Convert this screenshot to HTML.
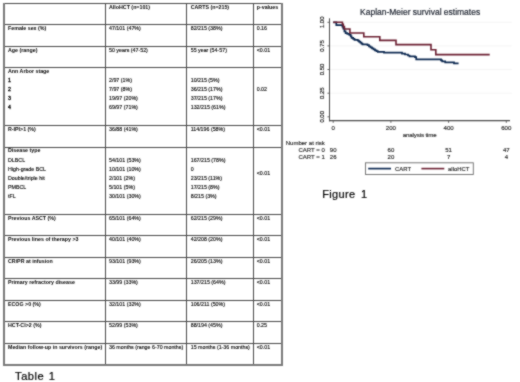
<!DOCTYPE html>
<html><head><meta charset="utf-8"><style>
html,body{margin:0;padding:0;background:#fff;width:520px;height:382px;overflow:hidden}
svg{display:block;will-change:transform;font-family:"Liberation Sans",sans-serif}
</style></head><body>
<svg width="520" height="382" viewBox="0 0 520 382">
<defs><filter id="f" x="0" y="0" width="520" height="382" filterUnits="userSpaceOnUse" color-interpolation-filters="sRGB"><feConvolveMatrix order="3" kernelMatrix="1 2 1 2 12 2 1 2 1" edgeMode="duplicate"/></filter></defs>
<g filter="url(#f)">
<rect x="0" y="0" width="520" height="382" fill="#fff"/>
<rect x="3" y="24" width="280" height="1" fill="#4a4a4a"/>
<rect x="3" y="46" width="280" height="1" fill="#4a4a4a"/>
<rect x="3" y="67" width="280" height="1" fill="#4a4a4a"/>
<rect x="3" y="125" width="280" height="1" fill="#4a4a4a"/>
<rect x="3" y="147" width="280" height="1" fill="#4a4a4a"/>
<rect x="3" y="214" width="280" height="1" fill="#4a4a4a"/>
<rect x="3" y="235" width="280" height="1" fill="#4a4a4a"/>
<rect x="3" y="257" width="280" height="1" fill="#4a4a4a"/>
<rect x="3" y="278" width="280" height="1" fill="#4a4a4a"/>
<rect x="3" y="300" width="280" height="1" fill="#4a4a4a"/>
<rect x="3" y="321" width="280" height="1" fill="#4a4a4a"/>
<rect x="3" y="343" width="280" height="1" fill="#4a4a4a"/>
<rect x="105" y="3" width="1" height="363" fill="#4a4a4a"/>
<rect x="186" y="3" width="1" height="363" fill="#4a4a4a"/>
<rect x="253" y="3" width="1" height="363" fill="#4a4a4a"/>
<rect x="3" y="3" width="280" height="1" fill="#4a4a4a"/>
<rect x="3" y="3" width="2" height="363" fill="#7a7a7a"/>
<rect x="281" y="3" width="2" height="363" fill="#7a7a7a"/>
<rect x="3" y="364" width="280" height="2" fill="#7a7a7a"/>
<text x="109" y="8.6" font-size="5.3" font-weight="bold" fill="#000">AlloHCT (n=101)</text>
<text x="190.7" y="8.6" font-size="5.3" font-weight="bold" fill="#000">CARTS (n=215)</text>
<text x="256.7" y="8.6" font-size="5.3" font-weight="bold" fill="#000">p-values</text>
<text x="8" y="29.8" font-size="5.3" font-weight="bold" fill="#000">Female sex (%)</text>
<text x="109" y="29.8" font-size="5.3" fill="#000" stroke="#000" stroke-width="0.12">47/101 (47%)</text>
<text x="190.7" y="29.8" font-size="5.3" fill="#000" stroke="#000" stroke-width="0.12">82/215 (38%)</text>
<text x="256.7" y="29.8" font-size="5.3" fill="#000" stroke="#000" stroke-width="0.12">0.16</text>
<text x="8" y="51.8" font-size="5.3" font-weight="bold" fill="#000">Age (range)</text>
<text x="109" y="51.8" font-size="5.3" fill="#000" stroke="#000" stroke-width="0.12">50 years (47-52)</text>
<text x="190.7" y="51.8" font-size="5.3" fill="#000" stroke="#000" stroke-width="0.12">55 year (54-57)</text>
<text x="256.7" y="51.8" font-size="5.3" fill="#000" stroke="#000" stroke-width="0.12">&lt;0.01</text>
<text x="8" y="72.8" font-size="5.3" font-weight="bold" fill="#000">Ann Arbor stage</text>
<text x="8" y="81.8" font-size="5.3" fill="#000" stroke="#000" stroke-width="0.3">1</text>
<text x="109" y="81.8" font-size="5.3" fill="#000" stroke="#000" stroke-width="0.12">2/97 (1%)</text>
<text x="190.7" y="81.8" font-size="5.3" fill="#000" stroke="#000" stroke-width="0.12">10/215 (5%)</text>
<text x="8" y="90.9" font-size="5.3" fill="#000" stroke="#000" stroke-width="0.3">2</text>
<text x="109" y="90.9" font-size="5.3" fill="#000" stroke="#000" stroke-width="0.12">7/97 (8%)</text>
<text x="190.7" y="90.9" font-size="5.3" fill="#000" stroke="#000" stroke-width="0.12">36/215 (17%)</text>
<text x="8" y="100.0" font-size="5.3" fill="#000" stroke="#000" stroke-width="0.3">3</text>
<text x="109" y="100.0" font-size="5.3" fill="#000" stroke="#000" stroke-width="0.12">19/97 (20%)</text>
<text x="190.7" y="100.0" font-size="5.3" fill="#000" stroke="#000" stroke-width="0.12">37/215 (17%)</text>
<text x="8" y="109.1" font-size="5.3" fill="#000" stroke="#000" stroke-width="0.3">4</text>
<text x="109" y="109.1" font-size="5.3" fill="#000" stroke="#000" stroke-width="0.12">69/97 (71%)</text>
<text x="190.7" y="109.1" font-size="5.3" fill="#000" stroke="#000" stroke-width="0.12">132/215 (61%)</text>
<text x="256.7" y="91.0" font-size="5.3" fill="#000" stroke="#000" stroke-width="0.12">0.02</text>
<text x="8" y="130.8" font-size="5.3" font-weight="bold" fill="#000">R-IPI&gt;1 (%)</text>
<text x="109" y="130.8" font-size="5.3" fill="#000" stroke="#000" stroke-width="0.12">36/88 (41%)</text>
<text x="190.7" y="130.8" font-size="5.3" fill="#000" stroke="#000" stroke-width="0.12">114/196 (58%)</text>
<text x="256.7" y="130.8" font-size="5.3" fill="#000" stroke="#000" stroke-width="0.12">&lt;0.01</text>
<text x="8" y="152.4" font-size="5.3" font-weight="bold" fill="#000">Disease type</text>
<text x="8" y="161.5" font-size="5.3" fill="#000" stroke="#000" stroke-width="0.12">DLBCL</text>
<text x="109" y="161.5" font-size="5.3" fill="#000" stroke="#000" stroke-width="0.12">54/101 (53%)</text>
<text x="190.7" y="161.5" font-size="5.3" fill="#000" stroke="#000" stroke-width="0.12">167/215 (78%)</text>
<text x="8" y="170.6" font-size="5.3" fill="#000" stroke="#000" stroke-width="0.12">High-grade BCL</text>
<text x="109" y="170.6" font-size="5.3" fill="#000" stroke="#000" stroke-width="0.12">10/101 (10%)</text>
<text x="190.7" y="170.6" font-size="5.3" fill="#000" stroke="#000" stroke-width="0.12">0</text>
<text x="8" y="179.7" font-size="5.3" fill="#000" stroke="#000" stroke-width="0.12">Double/triple hit</text>
<text x="109" y="179.7" font-size="5.3" fill="#000" stroke="#000" stroke-width="0.12">2/101 (2%)</text>
<text x="190.7" y="179.7" font-size="5.3" fill="#000" stroke="#000" stroke-width="0.12">23/215 (11%)</text>
<text x="8" y="188.8" font-size="5.3" fill="#000" stroke="#000" stroke-width="0.12">PMBCL</text>
<text x="109" y="188.8" font-size="5.3" fill="#000" stroke="#000" stroke-width="0.12">5/101 (5%)</text>
<text x="190.7" y="188.8" font-size="5.3" fill="#000" stroke="#000" stroke-width="0.12">17/215 (8%)</text>
<text x="8" y="197.9" font-size="5.3" fill="#000" stroke="#000" stroke-width="0.12">tFL</text>
<text x="109" y="197.9" font-size="5.3" fill="#000" stroke="#000" stroke-width="0.12">30/101 (30%)</text>
<text x="190.7" y="197.9" font-size="5.3" fill="#000" stroke="#000" stroke-width="0.12">8/215 (3%)</text>
<text x="256.7" y="175.3" font-size="5.3" fill="#000" stroke="#000" stroke-width="0.12">&lt;0.01</text>
<text x="8" y="219.8" font-size="5.3" font-weight="bold" fill="#000">Previous ASCT (%)</text>
<text x="109" y="219.8" font-size="5.3" fill="#000" stroke="#000" stroke-width="0.12">65/101 (64%)</text>
<text x="190.7" y="219.8" font-size="5.3" fill="#000" stroke="#000" stroke-width="0.12">62/215 (29%)</text>
<text x="256.7" y="219.8" font-size="5.3" fill="#000" stroke="#000" stroke-width="0.12">&lt;0.01</text>
<text x="8" y="240.8" font-size="5.3" font-weight="bold" fill="#000">Previous lines of therapy &gt;3</text>
<text x="109" y="240.8" font-size="5.3" fill="#000" stroke="#000" stroke-width="0.12">40/101 (40%)</text>
<text x="190.7" y="240.8" font-size="5.3" fill="#000" stroke="#000" stroke-width="0.12">42/208 (20%)</text>
<text x="256.7" y="240.8" font-size="5.3" fill="#000" stroke="#000" stroke-width="0.12">&lt;0.01</text>
<text x="8" y="262.8" font-size="5.3" font-weight="bold" fill="#000">CR/PR  at infusion</text>
<text x="109" y="262.8" font-size="5.3" fill="#000" stroke="#000" stroke-width="0.12">93/101 (93%)</text>
<text x="190.7" y="262.8" font-size="5.3" fill="#000" stroke="#000" stroke-width="0.12">26/205 (13%)</text>
<text x="256.7" y="262.8" font-size="5.3" fill="#000" stroke="#000" stroke-width="0.12">&lt;0.01</text>
<text x="8" y="283.8" font-size="5.3" font-weight="bold" fill="#000">Primary refractory disease</text>
<text x="109" y="283.8" font-size="5.3" fill="#000" stroke="#000" stroke-width="0.12">33/99 (33%)</text>
<text x="190.7" y="283.8" font-size="5.3" fill="#000" stroke="#000" stroke-width="0.12">137/215 (64%)</text>
<text x="256.7" y="283.8" font-size="5.3" fill="#000" stroke="#000" stroke-width="0.12">&lt;0.01</text>
<text x="8" y="305.8" font-size="5.3" font-weight="bold" fill="#000">ECOG &gt;0 (%)</text>
<text x="109" y="305.8" font-size="5.3" fill="#000" stroke="#000" stroke-width="0.12">32/101 (32%)</text>
<text x="190.7" y="305.8" font-size="5.3" fill="#000" stroke="#000" stroke-width="0.12">106/211 (50%)</text>
<text x="256.7" y="305.8" font-size="5.3" fill="#000" stroke="#000" stroke-width="0.12">&lt;0.01</text>
<text x="8" y="326.8" font-size="5.3" font-weight="bold" fill="#000">HCT-CI&gt;2 (%)</text>
<text x="109" y="326.8" font-size="5.3" fill="#000" stroke="#000" stroke-width="0.12">52/99 (53%)</text>
<text x="190.7" y="326.8" font-size="5.3" fill="#000" stroke="#000" stroke-width="0.12">88/194 (45%)</text>
<text x="256.7" y="326.8" font-size="5.3" fill="#000" stroke="#000" stroke-width="0.12">0.25</text>
<text x="8" y="348.8" font-size="5.3" font-weight="bold" fill="#000">Median follow-up in survivors (range)</text>
<text x="109" y="348.8" font-size="5.3" fill="#000" stroke="#000" stroke-width="0.12">36 months (range 6-70 months)</text>
<text x="190.7" y="348.8" font-size="5.3" fill="#000" stroke="#000" stroke-width="0.12">15 months (1-36 months)</text>
<text x="256.7" y="348.8" font-size="5.3" fill="#000" stroke="#000" stroke-width="0.12">&lt;0.01</text>
<text x="15.1" y="380.3" font-size="11.1" fill="#000" stroke="#000" stroke-width="0.2" letter-spacing="0.5">Table</text>
<text x="48.8" y="380.3" font-size="11.1" fill="#000" stroke="#000" stroke-width="0.2">1</text>
<line x1="329.5" y1="22.3" x2="511.8" y2="22.3" stroke="#f5f5f5" stroke-width="1"/>
<line x1="329.5" y1="45.9" x2="511.8" y2="45.9" stroke="#f5f5f5" stroke-width="1"/>
<line x1="329.5" y1="69.5" x2="511.8" y2="69.5" stroke="#f5f5f5" stroke-width="1"/>
<line x1="329.5" y1="93.2" x2="511.8" y2="93.2" stroke="#f5f5f5" stroke-width="1"/>
<line x1="329.5" y1="18.3" x2="329.5" y2="121.3" stroke="#4a4a4a" stroke-width="1"/>
<line x1="329" y1="120.7" x2="510" y2="120.7" stroke="#4a4a4a" stroke-width="1.2"/>
<line x1="327.4" y1="22.3" x2="329.5" y2="22.3" stroke="#4a4a4a" stroke-width="0.8"/>
<text x="323.6" y="22.3" font-size="5.9" text-anchor="middle" fill="#222" stroke="#222" stroke-width="0.2" transform="rotate(-90 323.6 22.3)">1.00</text>
<line x1="327.4" y1="45.9" x2="329.5" y2="45.9" stroke="#4a4a4a" stroke-width="0.8"/>
<text x="323.6" y="45.9" font-size="5.9" text-anchor="middle" fill="#222" stroke="#222" stroke-width="0.2" transform="rotate(-90 323.6 45.9)">0.75</text>
<line x1="327.4" y1="69.5" x2="329.5" y2="69.5" stroke="#4a4a4a" stroke-width="0.8"/>
<text x="323.6" y="69.5" font-size="5.9" text-anchor="middle" fill="#222" stroke="#222" stroke-width="0.2" transform="rotate(-90 323.6 69.5)">0.50</text>
<line x1="327.4" y1="93.2" x2="329.5" y2="93.2" stroke="#4a4a4a" stroke-width="0.8"/>
<text x="323.6" y="93.2" font-size="5.9" text-anchor="middle" fill="#222" stroke="#222" stroke-width="0.2" transform="rotate(-90 323.6 93.2)">0.25</text>
<line x1="327.4" y1="116.8" x2="329.5" y2="116.8" stroke="#4a4a4a" stroke-width="0.8"/>
<text x="323.6" y="116.8" font-size="5.9" text-anchor="middle" fill="#222" stroke="#222" stroke-width="0.2" transform="rotate(-90 323.6 116.8)">0.00</text>
<line x1="333.2" y1="120.8" x2="333.2" y2="122.9" stroke="#4a4a4a" stroke-width="0.8"/>
<text x="333.2" y="130.1" font-size="6.1" text-anchor="middle" fill="#222" stroke="#222" stroke-width="0.14">0</text>
<line x1="390.9" y1="120.8" x2="390.9" y2="122.9" stroke="#4a4a4a" stroke-width="0.8"/>
<text x="390.9" y="130.1" font-size="6.1" text-anchor="middle" fill="#222" stroke="#222" stroke-width="0.14">200</text>
<line x1="448.6" y1="120.8" x2="448.6" y2="122.9" stroke="#4a4a4a" stroke-width="0.8"/>
<text x="448.6" y="130.1" font-size="6.1" text-anchor="middle" fill="#222" stroke="#222" stroke-width="0.14">400</text>
<line x1="506.3" y1="120.8" x2="506.3" y2="122.9" stroke="#4a4a4a" stroke-width="0.8"/>
<text x="506.3" y="130.1" font-size="6.1" text-anchor="middle" fill="#222" stroke="#222" stroke-width="0.14">600</text>
<text x="419.6" y="136.8" font-size="6.2" text-anchor="middle" fill="#222" stroke="#222" stroke-width="0.14" letter-spacing="-0.15">analysis time</text>
<text x="324.8" y="144.8" font-size="6.0" text-anchor="end" fill="#222" stroke="#222" stroke-width="0.14">Number at risk</text>
<text x="324.8" y="151.8" font-size="6.0" text-anchor="end" fill="#222" stroke="#222" stroke-width="0.14">CART = 0</text>
<text x="324.8" y="158.9" font-size="6.0" text-anchor="end" fill="#222" stroke="#222" stroke-width="0.14">CART = 1</text>
<text x="333.2" y="151.9" font-size="6.0" text-anchor="middle" fill="#222" stroke="#222" stroke-width="0.14">90</text>
<text x="333.2" y="158.9" font-size="6.0" text-anchor="middle" fill="#222" stroke="#222" stroke-width="0.14">26</text>
<text x="390.9" y="151.9" font-size="6.0" text-anchor="middle" fill="#222" stroke="#222" stroke-width="0.14">60</text>
<text x="390.9" y="158.9" font-size="6.0" text-anchor="middle" fill="#222" stroke="#222" stroke-width="0.14">20</text>
<text x="448.6" y="151.9" font-size="6.0" text-anchor="middle" fill="#222" stroke="#222" stroke-width="0.14">51</text>
<text x="448.6" y="158.9" font-size="6.0" text-anchor="middle" fill="#222" stroke="#222" stroke-width="0.14">7</text>
<text x="506.3" y="151.9" font-size="6.0" text-anchor="middle" fill="#222" stroke="#222" stroke-width="0.14">47</text>
<text x="506.3" y="158.9" font-size="6.0" text-anchor="middle" fill="#222" stroke="#222" stroke-width="0.14">4</text>
<path d="M333.2,22.3 H336.3 V25.1 H342.4 V26.6 H343.3 V28.7 H344.4 V31.3 H345.6 V33.2 H347.3 V33.9 H349.3 V34.8 H350.7 V36.4 H351.6 V37.9 H353.2 V38.8 H354.5 V39.8 H357.8 V40.6 H359.0 V41.6 H360.3 V42.6 H361.5 V43.6 H362.5 V44.4 H367.5 V45.2 H369.0 V46.3 H370.5 V47.3 H372.0 V48.3 H373.5 V49.3 H375.0 V50.3 H376.5 V51.2 H377.8 V51.9 H384.0 V52.6 H402.0 V53.6 H405.0 V54.5 H408.0 V55.5 H409.5 V56.4 H415.0 V57.2 H416.2 V59.3 H441.0 V60.3 H442.2 V61.3 H445.2 V62.3 H454.0 V63.4 H458.6" fill="none" stroke="#0e2a52" stroke-width="1.7"/>
<path d="M333.2,22.3 H342.4 V24.3 H343.3 V26.6 H344.4 V29.0 H349.9 V33.0 H363.8 V36.8 H379.8 V40.4 H396.0 V44.6 H431.0 V49.8 H435.8 V54.6 H489.7" fill="none" stroke="#6c2032" stroke-width="1.6"/>
<text x="360.1" y="14.8" font-size="8.47" fill="#1e2430" stroke="#1e2430" stroke-width="0.2">Kaplan-Meier survival estimates</text>
<rect x="365.5" y="162.8" width="107.8" height="11.7" fill="#fff" stroke="#6a6a6a" stroke-width="0.9"/>
<line x1="368.2" y1="168.6" x2="391" y2="168.6" stroke="#0e2a52" stroke-width="1.7"/>
<line x1="421.4" y1="168.6" x2="444.3" y2="168.6" stroke="#6c2032" stroke-width="1.6"/>
<text x="395.1" y="170.9" font-size="5.9" fill="#222" stroke="#222" stroke-width="0.14">CART</text>
<text x="448.1" y="170.9" font-size="5.9" fill="#222" stroke="#222" stroke-width="0.14">alloHCT</text>
<text x="322.2" y="197.6" font-size="11.0" fill="#000" stroke="#000" stroke-width="0.2" letter-spacing="0.35">Figure</text>
<text x="361.0" y="197.6" font-size="11.0" fill="#000" stroke="#000" stroke-width="0.2">1</text>
</g>
</svg>
</body></html>
